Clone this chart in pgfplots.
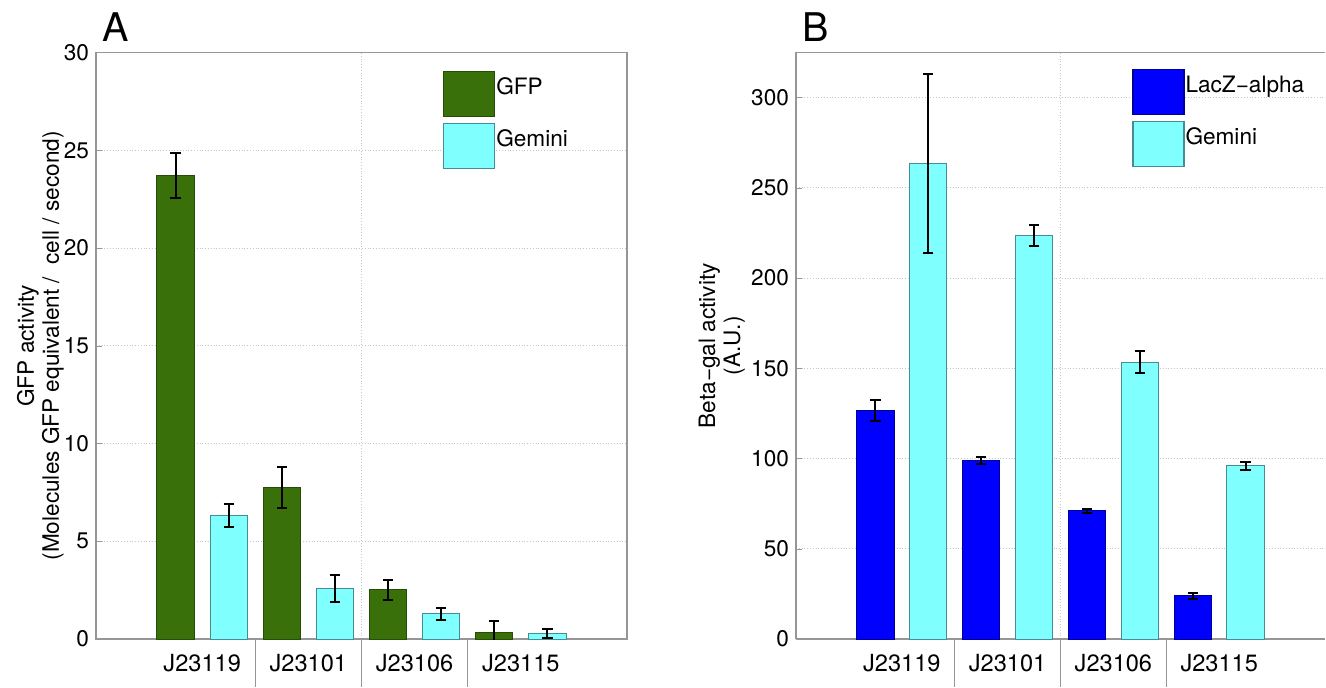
\documentclass[border=0pt]{standalone}
\usepackage{pgfplots}
\pgfplotsset{compat=1.18}
\usepackage{fontspec}
\setmainfont{TeX Gyre Heros}
\definecolor{gfp}{RGB}{58,112,10}
\definecolor{gfpedge}{RGB}{38,78,8}
\definecolor{gem}{RGB}{128,255,255}
\definecolor{gemedge}{RGB}{70,140,150}
\definecolor{lacz}{RGB}{0,0,255}
\definecolor{laczedge}{RGB}{0,0,150}
\definecolor{framec}{RGB}{150,150,150}
\pgfplotsset{
 common/.style={
  scale only axis, height=293.25pt, ymin=0, xmin=0, xmax=5,
  ybar, bar width=0.353,
  axis line style={framec, line width=0.6pt},
  tick style={framec},
  tick pos=left,
  tick align=inside,
  major tick length=3pt,
  ymajorgrids, grid style={densely dotted, gray!45},
  xtick={1,2,3,4}, xticklabels={J23119,J23101,J23106,J23115},
  xtick style={draw=none},
  minor xtick={2.5}, xminorgrids, minor tick length=0pt,
  extra x ticks={1.5,2.5,3.5}, extra x tick labels={},
  extra x tick style={grid=none, tick align=outside, major tick length=24pt, xtick style={draw=framec, line width=0.6pt}},
  xticklabel style={font=\fontsize{11.8}{13}\selectfont, yshift=-4pt},
  yticklabel style={font=\fontsize{11.3}{13}\selectfont},
  /pgf/number format/assume math mode=true,
  legend image code/.code={\draw[##1, line width=0.6pt] (0pt,-14.5pt) rectangle (25.5pt,8pt);},
  legend style={draw=none, fill=none, anchor=north west, inner sep=0pt, row sep=2.8pt,
     font=\fontsize{11.3}{13}\selectfont, nodes={inner sep=0.5pt}},
  legend cell align=left,
  ylabel style={font=\fontsize{11.3}{12.5}\selectfont, align=center, inner sep=0pt, anchor=south},
 },
 eb/.style={error bars/.cd, y dir=both, y explicit,
   error bar style={black, line width=1pt},
   error mark options={black, rotate=90, mark size=2.6pt, line width=1pt}},
}
\begin{document}
\begin{tikzpicture}
\path[use as bounding box] (-48pt,-24pt) rectangle (615pt,319.5pt);
% Panel A
\begin{axis}[common, at={(0pt,0pt)}, anchor=south west,
  width=265.5pt, ymax=30, ytick={0,5,...,30},
  legend style={at={(0.653,0.969)}},
  ylabel={GFP activity\\(Molecules GFP equivalent /\ \ cell / second)},
  ylabel style={at={(axis description cs:-0.06,0.5)}},
  after end axis/.code={\node[anchor=base west, inner sep=0pt, font=\fontsize{19.75}{20}\selectfont] at ([xshift=2.85pt,yshift=5.3pt]rel axis cs:0,1) {A};},
]
\addplot[fill=gfp, draw=gfpedge, line width=0.5pt, bar shift=-0.25, eb] coordinates {
 (1,23.73) +- (0,1.15)
 (2,7.77) +- (0,1.05)
 (3,2.51) +- (0,0.52)
 (4,0.31) +- (0,0.62)
};
\addlegendentry{GFP}
\addplot[fill=gem, draw=gemedge, line width=0.5pt, bar shift=0.25, eb] coordinates {
 (1,6.33) +- (0,0.60)
 (2,2.58) +- (0,0.70)
 (3,1.28) +- (0,0.33)
 (4,0.29) +- (0,0.22)
};
\addlegendentry{Gemini}
\end{axis}
% Panel B
\begin{axis}[common, at={(350pt,0pt)}, anchor=south west,
  width=264.5pt, ymax=325, ytick={0,50,...,300},
  axis lines*=left,
  legend style={at={(0.635,0.973)}},
  ylabel={Beta−gal activity\\(A.U.)},
  ylabel style={at={(axis description cs:-0.096,0.5)}},
  after end axis/.code={\draw[framec, line width=0.6pt] (rel axis cs:0,1) -- (rel axis cs:1,1);
    \node[anchor=base west, inner sep=0pt, font=\fontsize{19.75}{20}\selectfont] at ([xshift=3.2pt,yshift=5.7pt]rel axis cs:0,1) {B};},
]
\addplot[fill=lacz, draw=laczedge, line width=0.5pt, bar shift=-0.25, eb] coordinates {
 (1,126.7) +- (0,6.0)
 (2,99.0) +- (0,2.0)
 (3,71.1) +- (0,1.2)
 (4,24.0) +- (0,1.7)
};
\addlegendentry{LacZ−alpha}
\addplot[fill=gem, draw=gemedge, line width=0.5pt, bar shift=0.25, eb] coordinates {
 (1,263.6) +- (0,49.5)
 (2,223.5) +- (0,5.8)
 (3,153.4) +- (0,6.0)
 (4,96.1) +- (0,2.2)
};
\addlegendentry{Gemini}
\end{axis}
\end{tikzpicture}
\end{document}
